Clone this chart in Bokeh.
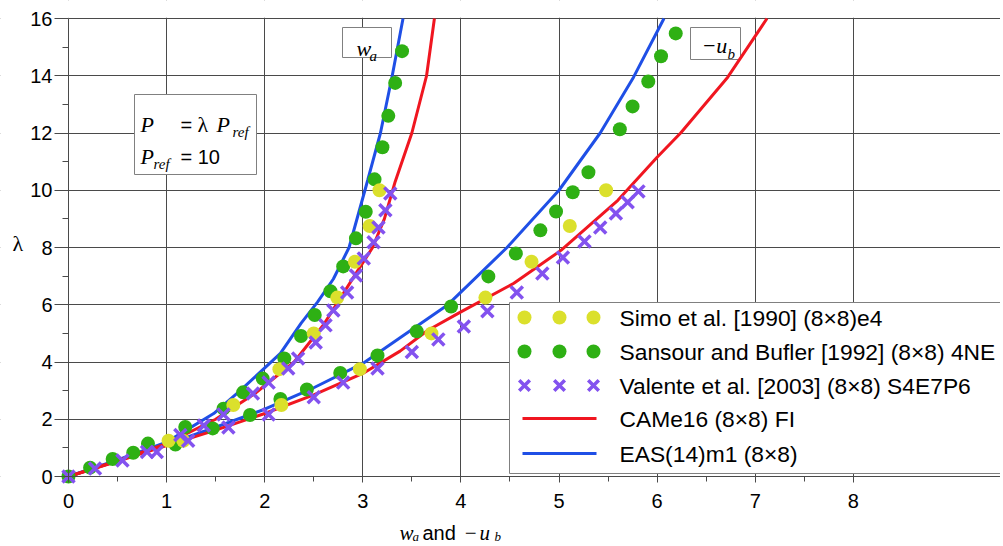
from bokeh.plotting import figure
from bokeh.models import Range1d, FixedTicker, Label, BoxAnnotation
from bokeh.embed import file_html
from bokeh.resources import INLINE

# ---------------- data ----------------
simo_lam = [1.25, 2.5, 3.75, 5.0, 6.25, 7.5, 8.75, 10.0]
simo_wa = [1.02, 1.68, 2.15, 2.50, 2.74, 2.92, 3.07, 3.17]
simo_ub = [1.17, 2.17, 2.97, 3.70, 4.25, 4.72, 5.11, 5.48]

sans_wa_x = [0, 0.22, 0.45, 0.66, 0.81, 1.19, 1.58, 1.78, 1.98, 2.20, 2.37, 2.51, 2.67,
             2.80, 2.93, 3.03, 3.12, 3.20, 3.26, 3.33, 3.40]
sans_wa_l = [0, 0.31, 0.61, 0.83, 1.15, 1.73, 2.37, 2.94, 3.42, 4.12, 4.91, 5.64, 6.47,
             7.34, 8.32, 9.25, 10.38, 11.5, 12.6, 13.75, 14.86]
sans_ub_x = [1.09, 1.47, 1.85, 2.16, 2.43, 2.77, 3.15, 3.55, 3.90, 4.28, 4.56, 4.81, 4.97,
             5.14, 5.30, 5.62, 5.75, 5.91, 6.04, 6.19]
sans_ub_l = [1.12, 1.68, 2.15, 2.71, 3.04, 3.62, 4.23, 5.07, 5.94, 6.99, 7.79, 8.6, 9.26,
             9.93, 10.63, 12.13, 12.93, 13.8, 14.68, 15.48]

val_wa_x = [0, 0.27, 0.55, 0.80, 1.14, 1.38, 1.58, 1.88, 2.04, 2.24, 2.34, 2.52, 2.62,
            2.70, 2.84, 2.93, 3.01, 3.11, 3.16, 3.23, 3.28]
val_wa_l = [0, 0.28, 0.56, 0.86, 1.45, 1.78, 2.17, 2.9, 3.28, 3.77, 4.12, 4.68, 5.28,
            5.8, 6.43, 7.02, 7.62, 8.18, 8.7, 9.3, 9.89]
val_ub_x = [0.90, 1.22, 1.63, 2.04, 2.50, 2.80, 3.15, 3.50, 3.77, 4.03, 4.27, 4.57, 4.83,
            5.04, 5.26, 5.42, 5.58, 5.70, 5.81]
val_ub_l = [0.86, 1.25, 1.71, 2.17, 2.77, 3.28, 3.77, 4.35, 4.79, 5.24, 5.77, 6.43, 7.09,
            7.65, 8.21, 8.7, 9.19, 9.58, 9.96]

came_wa_x = [0, 0.5, 1.0, 1.5, 1.9, 2.3, 2.6, 2.95, 3.1, 3.22, 3.33, 3.5, 3.65, 3.73]
came_wa_l = [0, 0.55, 1.15, 2.0, 2.9, 4.0, 5.3, 7.2, 8.0, 9.0, 10.3, 12, 14, 16]
came_ub_x = [0, 0.5, 1.0, 1.5, 2.0, 2.5, 3.0, 3.38, 3.66, 4.0, 4.54, 5.02, 5.6, 6.0, 6.24, 6.72, 7.12]
came_ub_l = [0, 0.53, 1.08, 1.62, 2.2, 2.85, 3.6, 4.38, 5.1, 5.75, 6.75, 7.9, 9.65, 11.15, 12.0, 13.95, 16]

eas_wa_x = [0, 0.5, 1.0, 1.48, 1.75, 2.16, 2.37, 2.54, 2.70, 2.86, 3.05, 3.18, 3.30, 3.41]
eas_wa_l = [0, 0.58, 1.2, 2.2, 3.0, 4.3, 5.35, 6.1, 6.9, 8.0, 10.35, 12, 14, 16]
eas_ub_x = [0, 0.5, 1.0, 1.5, 2.0, 2.5, 3.0, 3.38, 3.86, 4.47, 5.0, 5.42, 5.76, 6.07]
eas_ub_l = [0, 0.55, 1.12, 1.72, 2.35, 3.1, 3.95, 4.85, 5.98, 8.0, 10.0, 12.0, 13.95, 16]

x_ticks = [0, 1, 2, 3, 4, 5, 6, 7, 8]
y_ticks = [0, 2, 4, 6, 8, 10, 12, 14, 16]

legend_labels = ["Simo et al. [1990] (8\u00d78)e4",
                 "Sansour and Bufler [1992] (8\u00d78) 4NE",
                 "Valente et al. [2003] (8\u00d78) S4E7P6",
                 "CAMe16 (8\u00d78) FI",
                 "EAS(14)m1 (8\u00d78)"]

# ---------------- style / layout ----------------
YEL = "#dbe02c"
GRN = "#2eb014"
PUR = "#8352ef"
RED = "#f01620"
BLU = "#1f4fe6"
GRID = "#4a4a4a"
SANS = "Liberation Sans"
SERIF = "Liberation Serif"

W, H = 1000, 544
X0_PX, Y0_PX = 68, 476        # canvas pixel of data origin
PX_X, PX_Y = 98.1, 28.625     # pixels per data unit
XS, XE = -X0_PX / PX_X, (W - X0_PX) / PX_X
YS, YE = -(H - Y0_PX) / PX_Y, Y0_PX / PX_Y

p = figure(width=W, height=H, x_range=Range1d(XS, XE), y_range=Range1d(YS, YE),
           output_backend="svg", toolbar_location=None, min_border=0)
p.outline_line_color = None
p.background_fill_color = "white"
p.border_fill_color = "white"

p.xaxis.ticker = FixedTicker(ticks=x_ticks, minor_ticks=[t + 0.5 for t in x_ticks[:-1]])
p.yaxis.ticker = FixedTicker(ticks=y_ticks, minor_ticks=[t + 1 for t in y_ticks[:-1]])
p.xaxis.fixed_location = 0
p.yaxis.fixed_location = 0
p.xaxis.bounds = (0, XE)
p.yaxis.bounds = (0, 16)
for ax in (p.xaxis, p.yaxis):
    ax.axis_line_color = GRID
    ax.major_tick_line_color = GRID
    ax.minor_tick_line_color = GRID
    ax.major_tick_in = 0
    ax.minor_tick_in = 0
    ax.major_label_text_font = SANS
    ax.major_label_text_font_size = "20px"
    ax.major_label_text_color = "black"
    ax.level = "overlay"
p.xaxis.major_tick_out = 6
p.xaxis.minor_tick_out = 5
p.xaxis.major_label_standoff = 11
p.yaxis.major_tick_out = 14
p.yaxis.minor_tick_out = 6
p.yaxis.major_label_standoff = 2

p.grid.grid_line_color = GRID
p.grid.grid_line_width = 1
p.grid.grid_line_alpha = 1.0

# white covers so that grid lines stay inside 0..XE x 0..16
for l, r, b, t in [(XS, 0, YS, YE), (XS, XE, YS, 0), (XS, XE, 16.03, YE)]:
    p.add_layout(BoxAnnotation(left=l, right=r, bottom=b, top=t, fill_color="white",
                               fill_alpha=1.0, line_color=None))

# ---------------- curves & points ----------------
rs = []
rs.append(p.line(eas_wa_x, eas_wa_l, line_color=BLU, line_width=3))
rs.append(p.line(eas_ub_x, eas_ub_l, line_color=BLU, line_width=3))
rs.append(p.line(came_wa_x, came_wa_l, line_color=RED, line_width=3))
rs.append(p.line(came_ub_x, came_ub_l, line_color=RED, line_width=3))
rs.append(p.scatter(sans_wa_x, sans_wa_l, marker="circle", size=14, fill_color=GRN, line_color=None))
rs.append(p.scatter(sans_ub_x, sans_ub_l, marker="circle", size=14, fill_color=GRN, line_color=None))
rs.append(p.scatter(simo_wa, simo_lam, marker="circle", size=14, fill_color=YEL, line_color=None))
rs.append(p.scatter(simo_ub, simo_lam, marker="circle", size=14, fill_color=YEL, line_color=None))
rs.append(p.scatter(val_wa_x, val_wa_l, marker="x", size=17, line_color=PUR, line_width=3.5))
rs.append(p.scatter(val_ub_x, val_ub_l, marker="x", size=17, line_color=PUR, line_width=3.5))
for r in rs:
    r.level = "overlay"


# ---------------- annotations (canvas-pixel layout) ----------------
def sx(X):
    return X


def sy(Y):
    return H - Y


def box(x0, y0, x1, y1, color="#808080"):
    p.add_layout(BoxAnnotation(left=sx(x0), right=sx(x1), top=sy(y0), bottom=sy(y1),
                               left_units="screen", right_units="screen",
                               top_units="screen", bottom_units="screen",
                               fill_color="white", fill_alpha=1.0,
                               line_color=color, line_width=1, line_alpha=1.0))


def txt(X, Y, s, font=SERIF, size=22, style="italic", baseline="alphabetic", align="left"):
    p.add_layout(Label(x=sx(X), y=sy(Y), x_units="screen", y_units="screen", text=s,
                       text_font=font, text_font_size=f"{size}px", text_font_style=style,
                       text_color="black", text_baseline=baseline, text_align=align))


# P = lambda P_ref box
box(134, 94, 256, 174)
txt(140, 124, "P")
txt(180, 124, "=", font=SANS, size=20, style="normal")
txt(197, 124, "\u03bb", style="normal")
txt(216, 124, "P")
txt(232, 131, "ref", size=15)
txt(140, 156, "P")
txt(153, 163, "ref", size=15)
txt(180, 156, "= 10", font=SANS, size=20, style="normal")

# w_a box
box(342, 27, 391, 57)
txt(356, 48, "w")
txt(369, 55, "a", size=15)

# -u_b box
box(690, 27, 740, 59)
txt(701, 45, "\u2212u")
txt(727, 53, "b", size=15)

# axis titles
txt(399, 532, "w", size=21)
txt(412, 536, "a", size=13)
txt(422, 532, "and", font=SANS, size=20, style="normal")
txt(463, 532, "\u2212", size=21)
txt(479, 532, "u", size=21)
txt(494, 536, "b", size=13)
txt(12, 243, "\u03bb", size=22, style="normal")

# legend
box(509, 302, 1010, 473)
rows_y = [317, 351, 385, 418, 453]
for yy, s in zip(rows_y, legend_labels):
    txt(619, yy, s, font=SANS, size=22.8, style="normal", baseline="middle")


def dx(X):
    return XS + X / PX_X


def dy(Y):
    return YS + (H - Y) / PX_Y


mark_X = [524, 559, 593]
lg = []
lg.append(p.scatter([dx(v) for v in mark_X], [dy(rows_y[0])] * 3, marker="circle", size=14,
                    fill_color=YEL, line_color=None))
lg.append(p.scatter([dx(v) for v in mark_X], [dy(rows_y[1])] * 3, marker="circle", size=14,
                    fill_color=GRN, line_color=None))
lg.append(p.scatter([dx(v) for v in mark_X], [dy(rows_y[2])] * 3, marker="x", size=15,
                    line_color=PUR, line_width=3.5))
lg.append(p.line([dx(522), dx(596)], [dy(rows_y[3])] * 2, line_color=RED, line_width=3))
lg.append(p.line([dx(522), dx(596)], [dy(rows_y[4])] * 2, line_color=BLU, line_width=3))
for r in lg:
    r.level = "overlay"

open("out.html", "w").write(file_html(p, INLINE))
